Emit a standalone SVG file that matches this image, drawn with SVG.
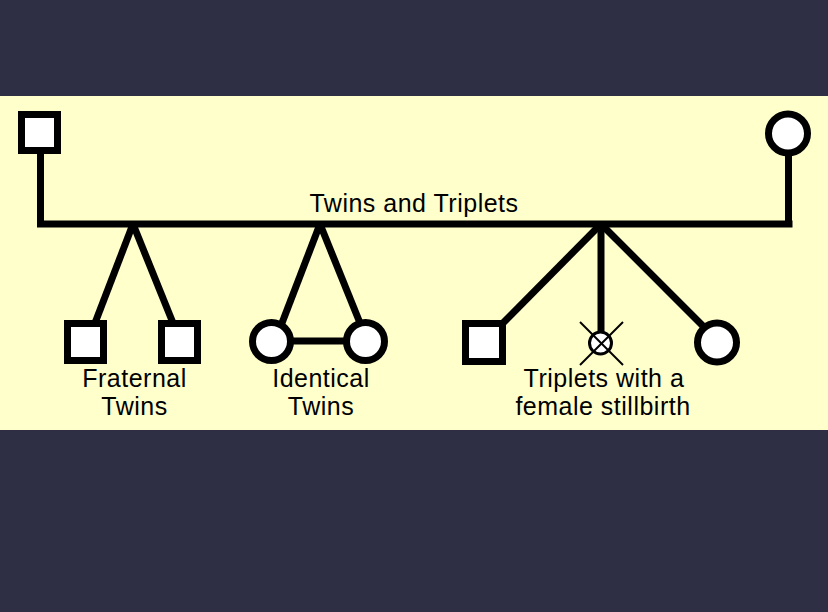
<svg xmlns="http://www.w3.org/2000/svg" width="828" height="612" viewBox="0 0 828 612">
<style>
.bg{fill:#2e2f45}
.band{fill:#ffffcc}
.sym{fill:#ffffff;stroke:#000;stroke-width:7}
.ln{stroke:#000;stroke-width:7;fill:none;stroke-linecap:butt}
.thin{stroke:#000;stroke-width:2;fill:none}
.lbl{font-family:"Liberation Sans",Arial,sans-serif;font-size:25px;fill:#000;text-anchor:middle;letter-spacing:0.5px}
</style>
<rect class="bg" x="0" y="0" width="828" height="612"/>
<rect class="band" x="0" y="96" width="828" height="334"/>
<g id="connectors">
  <line class="ln" x1="40.5" y1="152" x2="40.5" y2="224"/>
  <line class="ln" x1="37" y1="224" x2="792.5" y2="224"/>
  <line class="ln" x1="788.5" y1="155" x2="788.5" y2="224"/>
  <line class="ln" x1="133" y1="224" x2="95" y2="323"/>
  <line class="ln" x1="133" y1="224" x2="173" y2="323"/>
  <line class="ln" x1="320" y1="224" x2="282" y2="323"/>
  <line class="ln" x1="320" y1="224" x2="360" y2="323"/>
  <line class="ln" x1="290" y1="341" x2="347" y2="341"/>
  <line class="ln" x1="601" y1="224" x2="502" y2="324"/>
  <line class="ln" x1="601" y1="224" x2="601" y2="332"/>
  <line class="ln" x1="601" y1="224" x2="704" y2="327"/>
</g>
<g id="father"><rect class="sym" x="21.5" y="114.5" width="36" height="36"/></g>
<g id="mother"><circle class="sym" cx="788" cy="133.5" r="19.5"/></g>
<g id="fraternal1"><rect class="sym" x="67.5" y="323.5" width="36" height="37"/></g>
<g id="fraternal2"><rect class="sym" x="161.5" y="323.5" width="36" height="37"/></g>
<g id="identical1"><circle class="sym" cx="271.5" cy="341.5" r="19"/></g>
<g id="identical2"><circle class="sym" cx="365.5" cy="341.5" r="19"/></g>
<g id="triplet1"><rect class="sym" x="465.5" y="323.5" width="37" height="38"/></g>
<g id="triplet2">
  <circle cx="600.5" cy="343" r="11" fill="#fff" stroke="#000" stroke-width="3"/>
  <line class="thin" x1="580" y1="322" x2="623" y2="365"/>
  <line class="thin" x1="623" y1="322" x2="580" y2="365"/>
</g>
<g id="triplet3"><circle class="sym" cx="717" cy="342.5" r="19.5"/></g>
<g id="labels">
  <text class="lbl" x="414" y="212">Twins and Triplets</text>
  <text class="lbl" x="134.5" y="387">Fraternal</text>
  <text class="lbl" x="134.5" y="415">Twins</text>
  <text class="lbl" x="321" y="387">Identical</text>
  <text class="lbl" x="321" y="415">Twins</text>
  <text class="lbl" x="604" y="387">Triplets with a</text>
  <text class="lbl" x="603" y="415">female stillbirth</text>
</g>
</svg>
